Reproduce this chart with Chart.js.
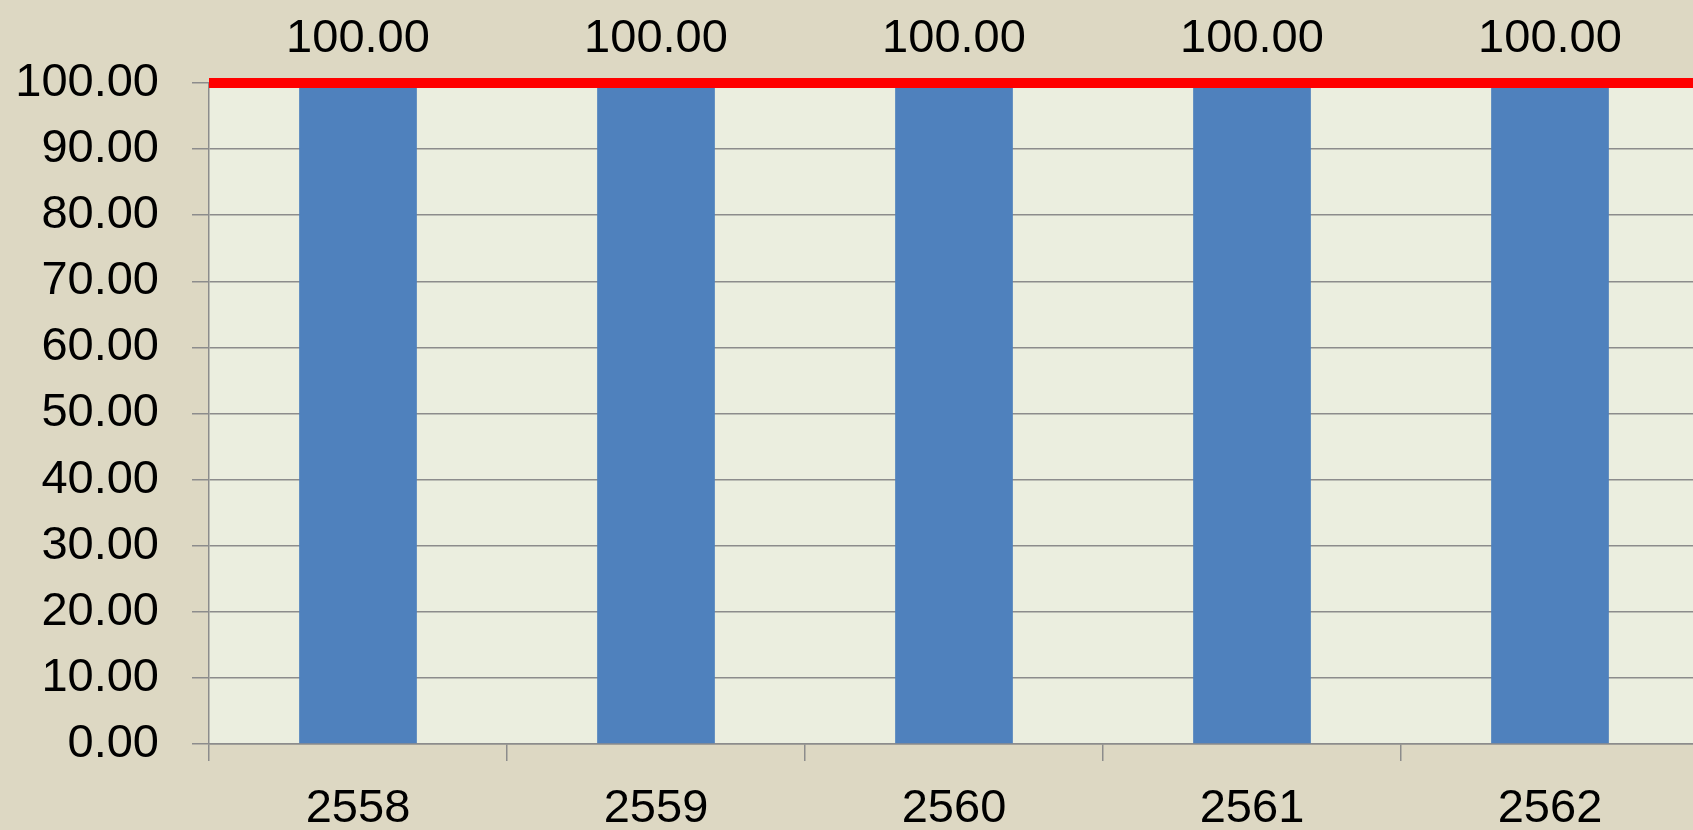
<!DOCTYPE html>
<html lang="th">
<head>
  <meta charset="UTF-8">
  <title>กราฟ 2558-2562</title>
  <script src="https://cdn.jsdelivr.net/npm/chart.js"></script>
  <style>
    html, body { margin: 0; padding: 0; overflow: hidden; background: #DDD8C3; }
    #grafica { display: block; }
  </style>
</head>
<body>
  <canvas id="grafica" width="1699" height="830"></canvas>

  <script>
    // datos
    const anios = ['2558', '2559', '2560', '2561', '2562'];
    const valores = [100, 100, 100, 100, 100];
    const meta = 100;
    const ticksY = [0, 10, 20, 30, 40, 50, 60, 70, 80, 90, 100];

    const fuente = '"Liberation Sans", Arial, sans-serif';

    // fondo del area de trazado
    const fondoArea = {
      id: 'fondoArea',
      beforeDraw(chart) {
        const { ctx, chartArea: a } = chart;
        ctx.save();
        ctx.fillStyle = '#EBEEDF';
        ctx.fillRect(a.left, a.top, a.right - a.left, a.bottom - a.top);
        ctx.restore();
      }
    };

    // etiquetas encima de las barras
    const etiquetas = {
      id: 'etiquetas',
      afterDatasetsDraw(chart) {
        const ctx = chart.ctx;
        const m = chart.getDatasetMeta(0);
        ctx.save();
        ctx.font = '47px ' + fuente;
        ctx.fillStyle = '#000';
        ctx.textAlign = 'center';
        ctx.textBaseline = 'middle';
        m.data.forEach((bar, i) => {
          ctx.fillText(valores[i].toFixed(2), bar.x, bar.y - 44);
        });
        ctx.restore();
      }
    };

    const ctx = document.getElementById('grafica').getContext('2d');
    new Chart(ctx, {
      type: 'bar',
      data: {
        labels: anios,
        datasets: [
          {
            type: 'bar',
            data: valores,
            backgroundColor: '#4F81BD',
            grouped: false,
            barPercentage: 0.79,
            categoryPercentage: 0.5,
            order: 2
          },
          {
            type: 'line',
            xAxisID: 'x2',
            data: [{ x: 0, y: meta }, { x: anios.length, y: meta }],
            borderColor: '#FF0000',
            borderWidth: 10,
            pointRadius: 0,
            clip: false,
            order: 1
          }
        ]
      },
      options: {
        responsive: false,
        animation: false,
        layout: { padding: { left: 0, top: 83, right: 0, bottom: 0 } },
        plugins: { legend: { display: false }, tooltip: { enabled: false } },
        scales: {
          x: {
            afterFit(axis) { axis.height = 86; },
            grid: { offset: true, drawOnChartArea: false, tickLength: 17, color: '#8C8C8C', lineWidth: 1.5 },
            border: { color: '#8C8C8C', width: 1.5 },
            ticks: { color: '#000', font: { family: fuente, size: 47 }, padding: 20, maxRotation: 0 }
          },
          x2: { type: 'linear', display: false, offset: false, grid: { offset: false }, min: 0, max: anios.length },
          y: {
            min: 0,
            max: 100,
            afterFit(axis) { axis.width = 209; },
            afterBuildTicks(axis) { axis.ticks = ticksY.map(v => ({ value: v })); },
            grid: { color: '#8C8C8C', lineWidth: 1.5, tickLength: 17 },
            border: { color: '#8C8C8C', width: 1.5 },
            ticks: {
              color: '#000',
              font: { family: fuente, size: 47 },
              padding: 33,
              callback: v => v.toFixed(2)
            }
          }
        }
      },
      plugins: [fondoArea, etiquetas]
    });
  </script>
</body>
</html>
